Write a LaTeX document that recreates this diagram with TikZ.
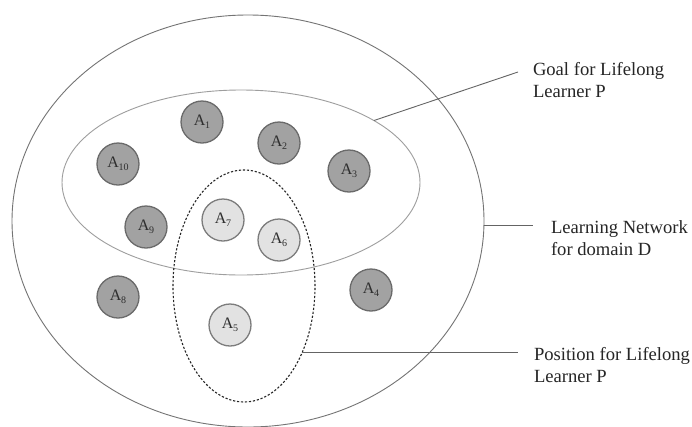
\documentclass[tikz,border=0pt]{standalone}
\usepackage{fontspec}
\setmainfont{Liberation Serif}
\usetikzlibrary{shapes.geometric}
\definecolor{darkfill}{HTML}{A2A2A2}
\definecolor{darkrim}{HTML}{6A6A6A}
\definecolor{lightfill}{HTML}{E2E2E2}
\definecolor{lightrim}{HTML}{7C7C7C}
\definecolor{outerc}{HTML}{747474}
\definecolor{goalc}{HTML}{9E9E9E}
\definecolor{connc}{HTML}{646464}
\definecolor{atext}{HTML}{2E2E2E}
\newcommand{\asub}[1]{A\kern-0.3pt\raisebox{-3pt}{\fontsize{10}{10}\selectfont #1}}
\begin{document}
\begin{tikzpicture}[x=1pt,y=-1pt,
  region/.style={ellipse, inner sep=0pt, outer sep=0pt, line width=0.9pt},
  act/.style={circle, minimum size=42pt, inner sep=0pt, line width=1.3pt,
    text=atext, font=\fontsize{16}{16}\selectfont},
  actdark/.style={act, fill=darkfill, draw=darkrim},
  actlight/.style={act, fill=lightfill, draw=lightrim},
  lbl/.style={align=left, inner sep=0pt, outer sep=0pt, text=black!85,
    font=\fontsize{18.6}{21.8}\selectfont},
  conn/.style={draw=connc, line width=0.9pt}]
\useasboundingbox (0,0) rectangle (692,426);
\fill[white] (0,0) rectangle (692,426);
% regions
\node[region, draw=outerc, minimum width=472pt, minimum height=412pt] (outer) at (248,221) {};
\node[region, draw=goalc, minimum width=358pt, minimum height=185pt] (goal) at (241,182.5) {};
\node[region, draw=black!85, dash pattern=on 2.2pt off 1.8pt, line width=1.1pt,
  minimum width=142pt, minimum height=232pt] (pos) at (244,286) {};
% activities
\node[actdark] (a1) at (202,122) {\asub{1}};
\node[actdark] (a2) at (279,143) {\asub{2}};
\node[actdark] (a3) at (349,171) {\asub{3}};
\node[actdark] (a4) at (371,290) {\asub{4}};
\node[actlight] (a5) at (230,325) {\asub{5}};
\node[actlight] (a6) at (279,240) {\asub{6}};
\node[actlight] (a7) at (223,220) {\asub{7}};
\node[actdark] (a8) at (118,297) {\asub{8}};
\node[actdark] (a9) at (146,227) {\asub{9}};
\node[actdark] (a10) at (118,164) {\asub{10}};
% labels (base anchor = baseline of last line)
\node[lbl, anchor=base west] (goaltxt) at (533,97.5) {Goal for Lifelong\\Learner P};
\node[lbl, anchor=base west] (nettxt) at (551,255) {Learning Network\\for domain D};
\node[lbl, anchor=base west] (postxt) at (534,382) {Position for Lifelong\\Learner P};
% connector ends
\coordinate (goalend) at (518,72);
\coordinate (netend) at (533,227);
\coordinate (posend) at (518,353);
\draw[conn] (goal.25.7) -- (goalend);
\draw[conn] (outer.-1.5) -- (outer.-1.5 -| netend);
\draw[conn] (pos.-49.1) -- (pos.-49.1 -| posend);
\end{tikzpicture}
\end{document}
